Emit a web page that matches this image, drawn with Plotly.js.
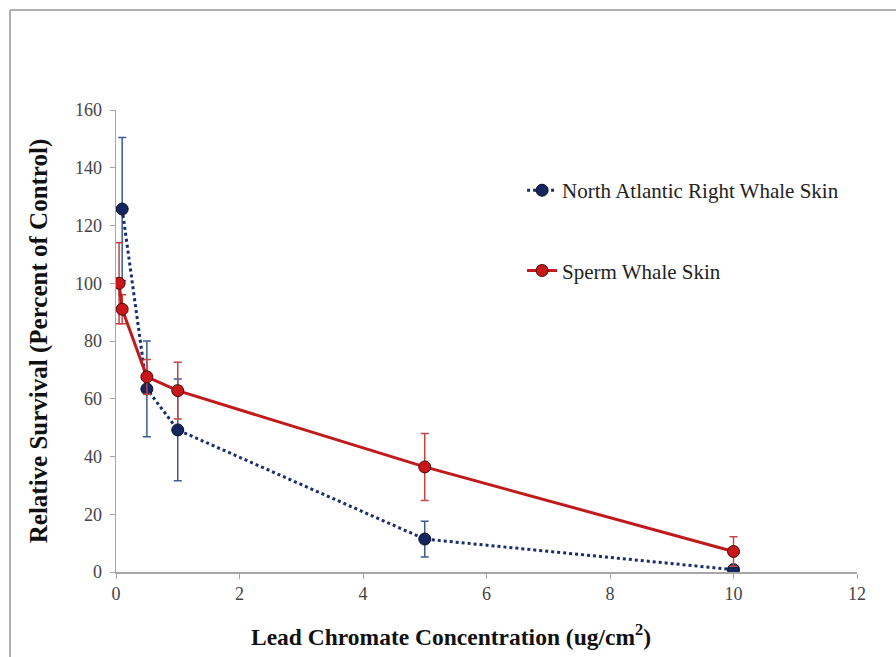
<!DOCTYPE html>
<html>
<head>
<meta charset="utf-8">
<script src="https://cdn.plot.ly/plotly-3.0.1.min.js"></script>
<style>html,body{margin:0;padding:0;background:#fff;}#chart{width:896px;height:657px;}</style>
</head>
<body>
<div id="chart"></div>
<script>
// Data
const rightWhaleX = [0.1, 0.5, 1, 5, 10];
const rightWhaleY = [125.7, 63.4, 49.2, 11.4, 0.8];
const rightWhaleErr = [24.8, 16.6, 17.6, 6.2, 0.5];

const spermWhaleX = [0.05, 0.1, 0.5, 1, 5, 10];
const spermWhaleY = [100, 91, 67.6, 62.8, 36.4, 7.1];
const spermWhaleErr = [14, 5, 6, 9.8, 11.6, 5.1];

const xTicks = [0, 2, 4, 6, 8, 10, 12];
const yTicks = [0, 20, 40, 60, 80, 100, 120, 140, 160];

const xTitle = '<b>Lead Chromate Concentration (ug/cm<sup>2</sup>)</b>';
const yTitle = '<b>Relative Survival (Percent of Control)</b>';

const serif = 'Liberation Serif, Times New Roman, serif';

const traces = [
  {
    x: rightWhaleX, y: rightWhaleY, name: 'North Atlantic Right Whale Skin',
    type: 'scatter', mode: 'lines+markers', legendgroup: 'a',
    line: {color: '#1c2d6e', width: 3, dash: 'dot'},
    marker: {color: '#13265e', size: 12, line: {color: '#0a0f24', width: 1}},
    error_y: {type: 'data', array: rightWhaleErr, visible: true, color: '#3d5c8f', thickness: 1.5, width: 4}
  },
  {
    x: spermWhaleX, y: spermWhaleY, name: 'Sperm Whale Skin',
    type: 'scatter', mode: 'lines+markers', legendgroup: 'b',
    line: {color: '#c01a1c', width: 3},
    marker: {color: '#c8161b', size: 12, line: {color: '#4a0a0a', width: 1}},
    error_y: {type: 'data', array: spermWhaleErr, visible: true, color: '#c64545', thickness: 1.5, width: 4}
  }
];

const layout = {
  width: 896, height: 657,
  margin: {l: 116, r: 39, t: 110, b: 85},
  paper_bgcolor: '#ffffff', plot_bgcolor: '#ffffff',
  font: {family: serif, color: '#222'},
  showlegend: true,
  legend: {
    x: 0.548, y: 0.87, xanchor: 'left', yanchor: 'top',
    font: {family: serif, size: 21, color: '#222'},
    tracegroupgap: 50, bgcolor: 'rgba(0,0,0,0)'
  },
  xaxis: {
    range: [0, 12], tickvals: xTicks, ticktext: xTicks.map(String),
    showgrid: false, zeroline: false, showline: true, linecolor: '#a6a6a6', linewidth: 1.5,
    ticks: 'outside', ticklen: 5, tickcolor: '#a6a6a6',
    tickfont: {family: serif, size: 18, color: '#444'}
  },
  yaxis: {
    range: [0, 160], tickvals: yTicks, ticktext: yTicks.map(String),
    showgrid: false, zeroline: false, showline: true, linecolor: '#a6a6a6', linewidth: 1.5,
    ticks: 'outside', ticklen: 5, tickcolor: '#a6a6a6', ticklabelstandoff: 4,
    tickfont: {family: serif, size: 18, color: '#444'},
    title: {text: yTitle, font: {family: serif, size: 25, color: '#111'}, standoff: 20}
  },
  annotations: [
    {text: xTitle, xref: 'paper', yref: 'paper', x: 0.452, y: -0.136, xanchor: 'center', yanchor: 'middle',
     showarrow: false, font: {family: serif, size: 23.5, color: '#111'}}
  ],
  shapes: [
    {type: 'line', xref: 'paper', yref: 'paper', x0: -0.143, x1: 1.1, y0: 1.2165, y1: 1.2165, line: {color: '#b0b0b0', width: 2}},
    {type: 'line', xref: 'paper', yref: 'paper', x0: -0.143, x1: -0.143, y0: 1.2165, y1: -0.3, line: {color: '#b0b0b0', width: 2}}
  ]
};

Plotly.newPlot('chart', traces, layout, {displayModeBar: false, staticPlot: true});
</script>
</body>
</html>
